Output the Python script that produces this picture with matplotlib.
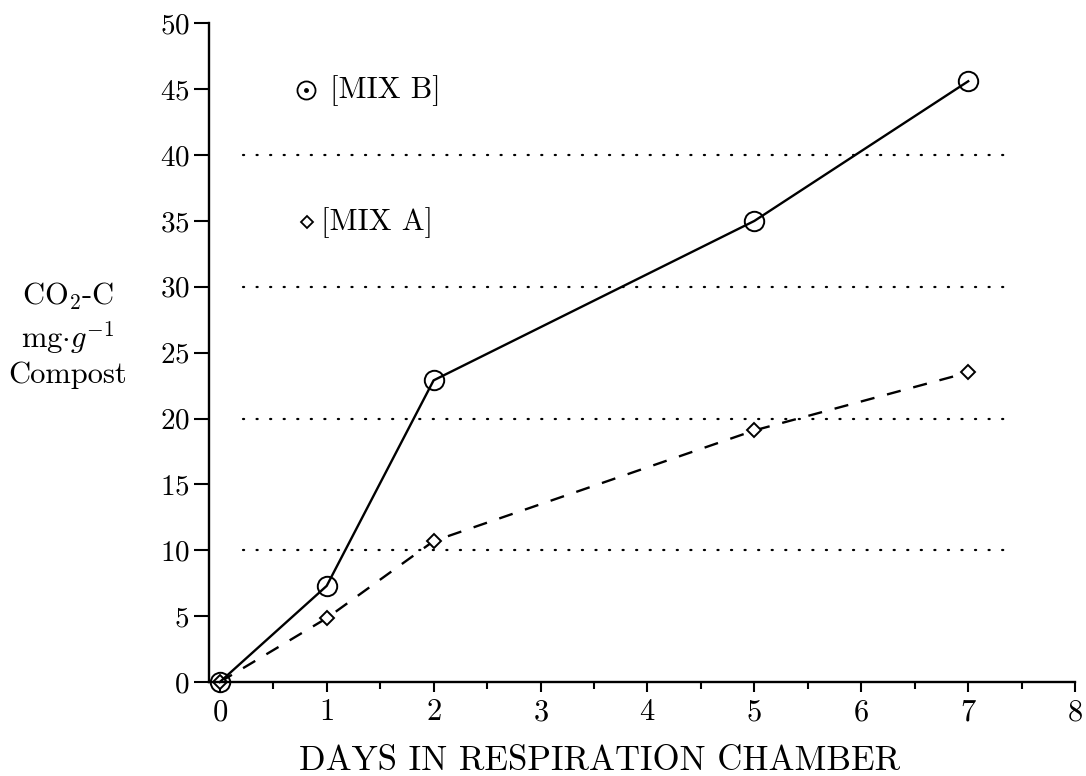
import numpy as np
import matplotlib
matplotlib.use("Agg")
import matplotlib.pyplot as plt
from matplotlib.ticker import MultipleLocator

plt.rcParams["font.family"] = "cmr10"
plt.rcParams["mathtext.fontset"] = "cm"
plt.rcParams["axes.formatter.use_mathtext"] = True

days = [0, 1, 2, 5, 7]
mix_b = [0.0, 7.3, 22.9, 35.0, 45.6]
mix_a = [0.0, 4.85, 10.7, 19.1, 23.5]
grid_levels = [10, 20, 30, 40]
y_ticks = list(range(0, 51, 5))
x_ticks = list(range(0, 9))

fig = plt.figure(figsize=(10.86, 7.76), dpi=100)
ax = fig.add_axes([0.1925, 0.121, 0.7975, 0.849])

# gestippelde hulplijnen
for lvl in grid_levels:
    ax.plot([0.215, 7.37], [lvl, lvl], color="black", lw=1.6,
            dashes=(0.5, 5.6), dash_capstyle="round", zorder=1)

# MIX B: doorgetrokken lijn met open cirkels
ax.plot(days, mix_b, color="black", lw=1.7, marker="o", markersize=14,
        markerfacecolor="none", markeredgewidth=1.4, clip_on=False, zorder=3)

# MIX A: gestreepte lijn met ruitjes
line_a, = ax.plot(days, mix_a, color="black", lw=1.7, marker="D", markersize=7,
                  markerfacecolor="white", markeredgewidth=1.4, clip_on=False,
                  zorder=2)
line_a.set_dashes([6, 5.5])

# legenda-symbolen in de grafiek
ax.plot([0.81], [44.9], marker="o", markersize=13, markerfacecolor="none",
        markeredgecolor="black", markeredgewidth=1.3, linestyle="none")
ax.plot([0.81], [44.9], marker="o", markersize=2.5, color="black",
        linestyle="none")
ax.text(1.03, 44.9, "[MIX B]", fontsize=22, va="center", ha="left")
ax.plot([0.82], [34.9], marker="D", markersize=6, markerfacecolor="none",
        markeredgecolor="black", markeredgewidth=1.3, linestyle="none")
ax.text(0.95, 34.9, "[MIX A]", fontsize=22, va="center", ha="left")

ax.set_xlim(-0.1, 8)
ax.set_ylim(0, 50)
ax.set_xticks(x_ticks)
ax.xaxis.set_minor_locator(MultipleLocator(0.5))
ax.set_yticks(y_ticks)

for side in ["top", "right"]:
    ax.spines[side].set_visible(False)
ax.spines["left"].set_linewidth(1.7)
ax.spines["bottom"].set_linewidth(1.7)

ax.tick_params(axis="x", which="major", direction="out", length=7, width=1.5,
               labelsize=22, pad=5)
ax.tick_params(axis="x", which="minor", direction="out", length=5, width=1.5)
ax.tick_params(axis="y", direction="out", length=11, width=1.5,
               labelsize=21, pad=3)

fig.text(600 / 1086, 1 - 770 / 776, "DAYS IN RESPIRATION CHAMBER",
         fontsize=25, ha="center", va="baseline")
fig.text(68 / 1086, 1 - 335 / 776, "CO$_2$-C\nmg$\\cdot g^{-1}$\nCompost",
         fontsize=22, ha="center", va="center", multialignment="center",
         linespacing=1.25)

fig.savefig("out.png", dpi=100)
